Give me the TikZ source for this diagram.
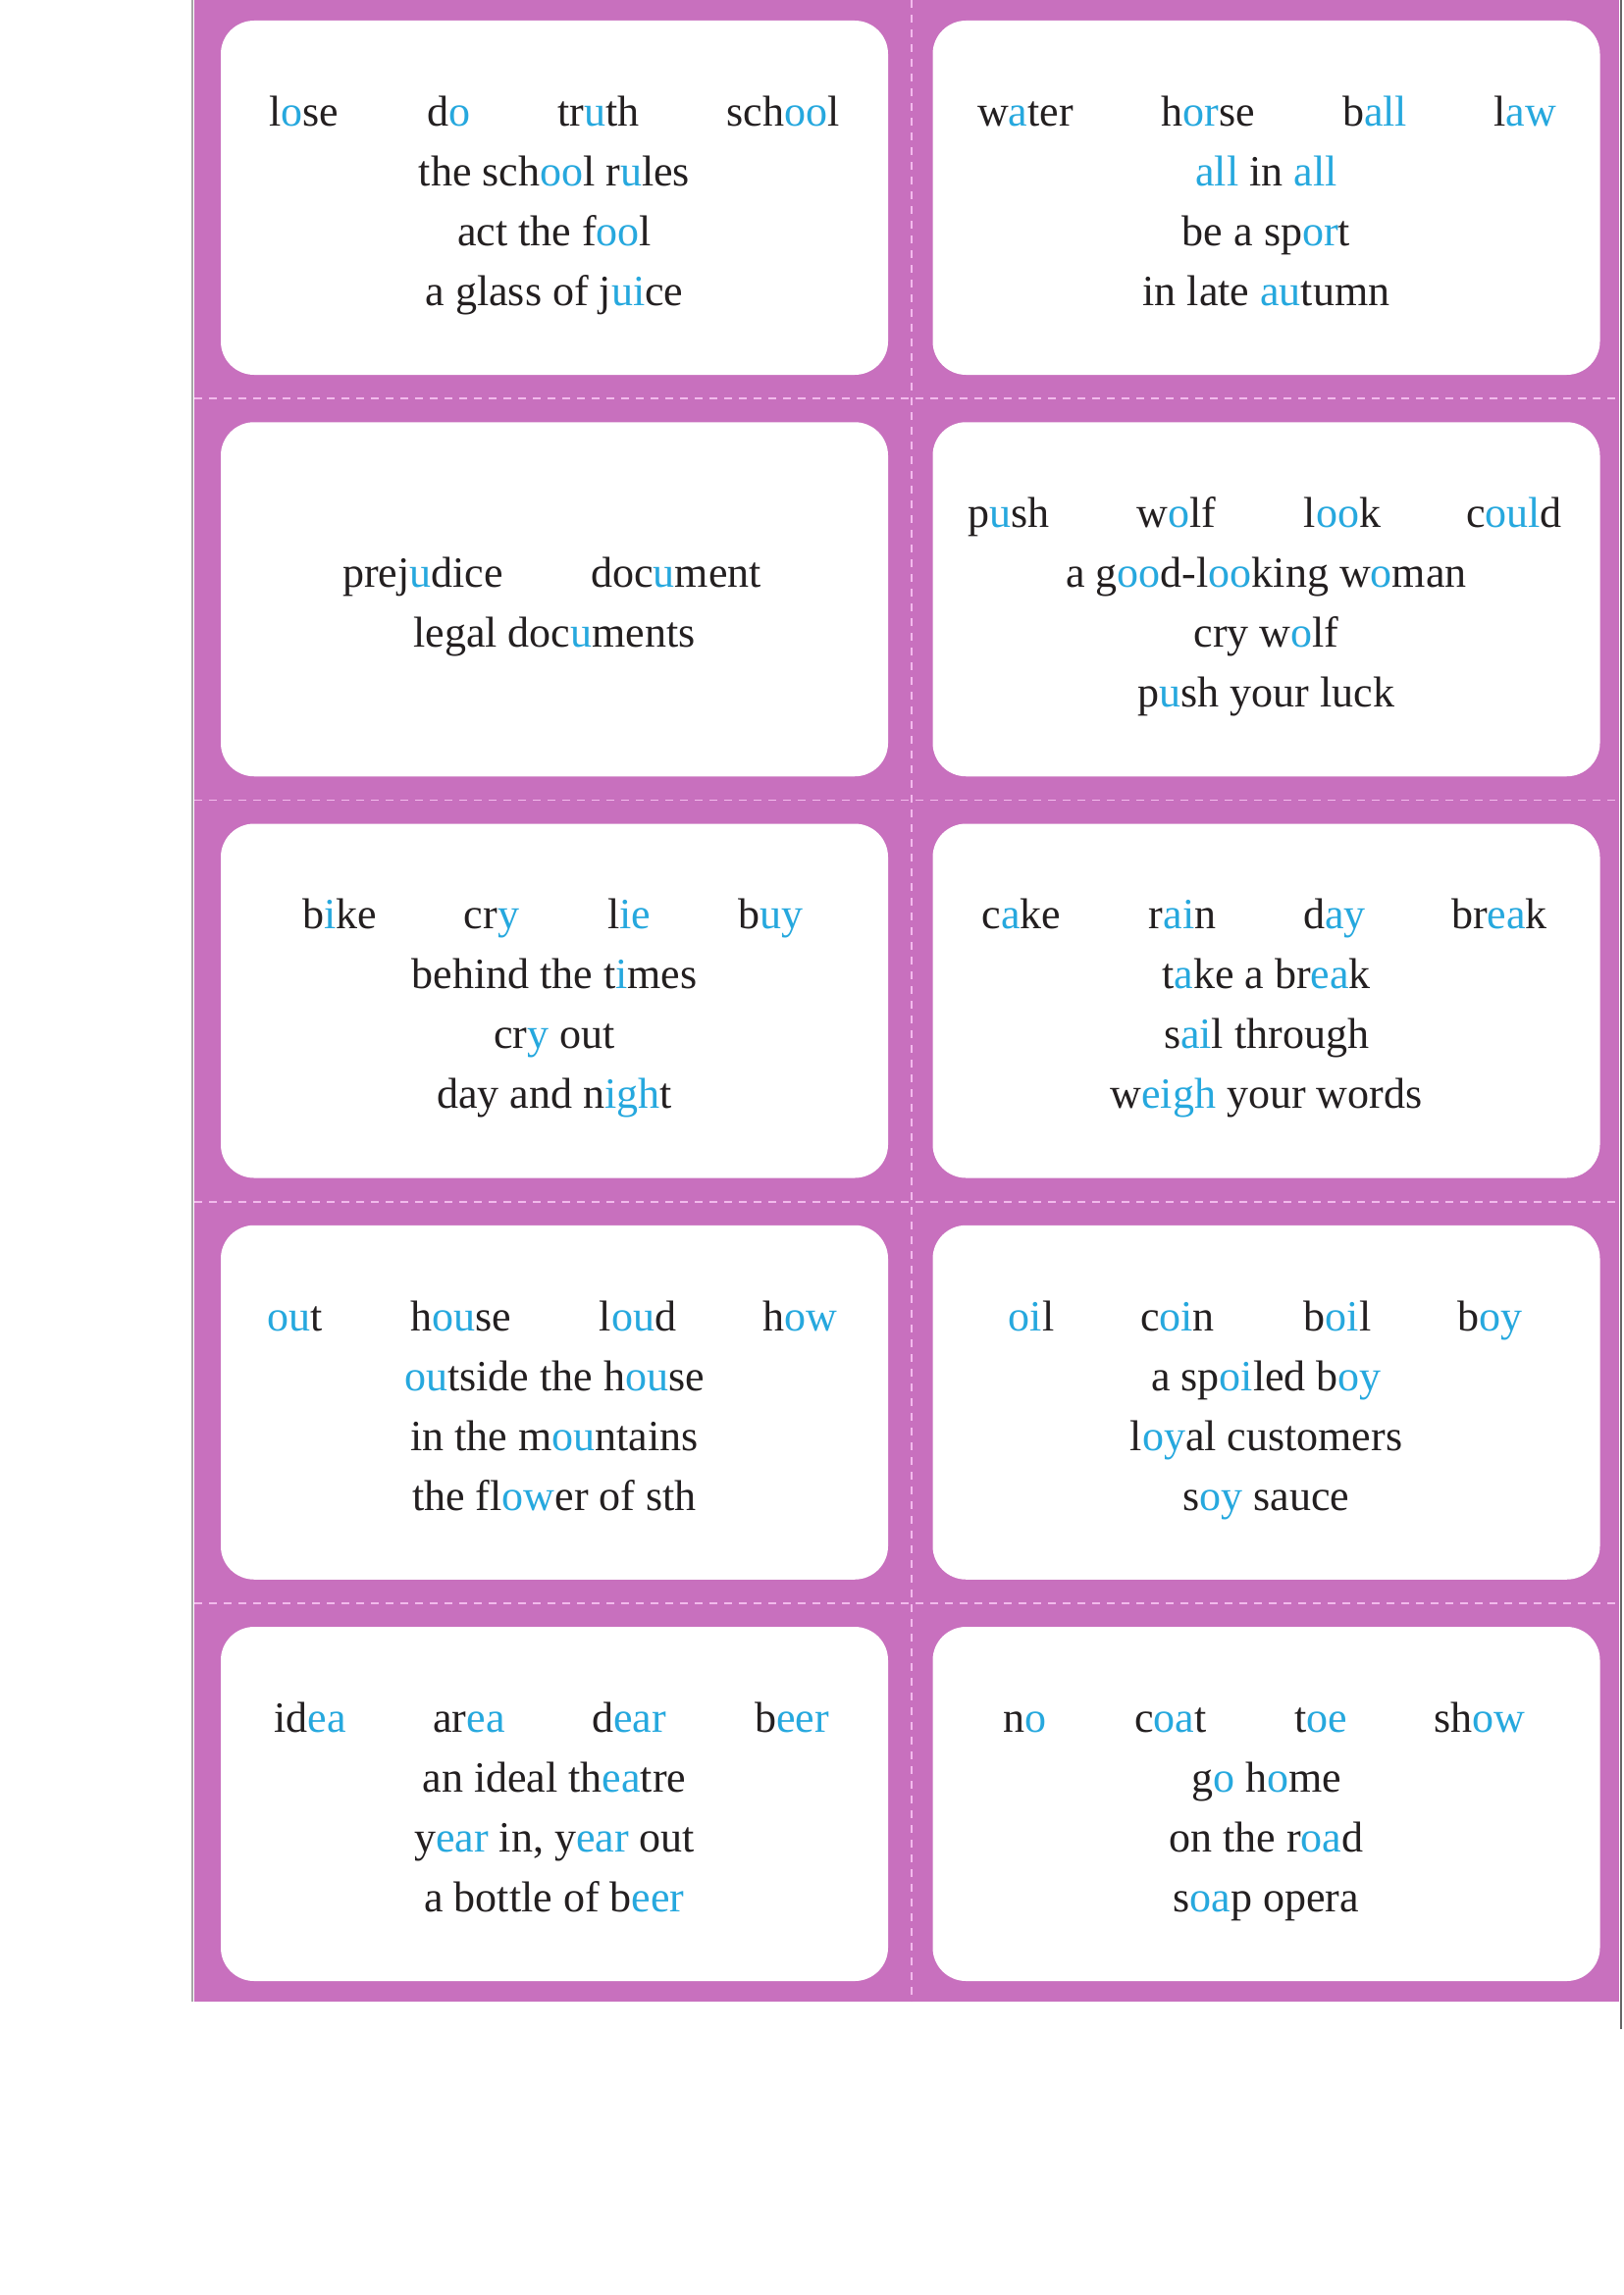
\documentclass[tikz,border=0pt]{standalone}
\usepackage{fontspec}
\setmainfont{Liberation Serif}
\usepackage{xcolor}
\definecolor{panelpink}{RGB}{200,112,190}
\definecolor{dashpink}{RGB}{242,186,236}
\definecolor{vblue}{RGB}{38,168,222}
\definecolor{ink}{RGB}{35,31,32}
\newcommand{\vw}[1]{\textcolor{vblue}{#1}}
\begin{document}
\begin{tikzpicture}[x=0.5pt,y=-0.5pt,
  card/.style={fill=white,draw=none,rounded corners=17pt,minimum width=340pt,minimum height=180.5pt,inner sep=0pt},
  txt/.style={anchor=base,inner sep=0pt,yshift=-1.5pt,text=ink,font=\fontsize{22pt}{26pt}\selectfont},
  cutline/.style={draw=dashpink,line width=0.8pt,dash pattern=on 4pt off 3.5pt}]
\useasboundingbox (0,0) rectangle (1654,2339);
\fill[white] (0,0) rectangle (1654,2339);
% panel
\fill[panelpink] (198,0) rectangle (1650,2040);
\draw[gray!70,line width=1pt] (196,0) -- (196,2040);
\draw[black!60,line width=1pt] (1652,0) -- (1652,2068);
% cut lines
\coordinate (vt) at (929,0); \coordinate (vb) at (929,2040);
\draw[cutline] (vt) -- (vb);
\foreach \yy in {406,815.5,1224.75,1634}{
  \draw[cutline] (198,\yy) -- (1650,\yy);
}
% cards
\node[card] (c1) at (565,201.5) {};
\node[card] (c2) at (1290.5,201.5) {};
\node[card] (c3) at (565,610.75) {};
\node[card] (c4) at (1290.5,610.75) {};
\node[card] (c5) at (565,1020) {};
\node[card] (c6) at (1290.5,1020) {};
\node[card] (c7) at (565,1429.25) {};
\node[card] (c8) at (1290.5,1429.25) {};
\node[card] (c9) at (565,1838.5) {};
\node[card] (c10) at (1290.5,1838.5) {};
% card 1
\node[txt] (a1) at (310,125) {l\vw{o}se};
\node[txt] (a2) at (457,125) {d\vw{o}};
\node[txt] (a3) at (610,125) {tr\vw{u}th};
\node[txt] (a4) at (798,125) {sch\vw{oo}l};
\node[txt] (a5) at (565,186) {the sch\vw{oo}l r\vw{u}les};
\node[txt] (a6) at (565,247) {act the f\vw{oo}l};
\node[txt] (a7) at (565,308) {a glass of j\vw{ui}ce};
% card 2
\node[txt] (b1) at (1045,125) {w\vw{a}ter};
\node[txt] (b2) at (1231,125) {h\vw{or}se};
\node[txt] (b3) at (1401,125) {b\vw{all}};
\node[txt] (b4) at (1554,125) {l\vw{aw}};
\node[txt] (b5) at (1290.5,186) {\vw{all} in \vw{all}};
\node[txt] (b6) at (1290.5,247) {be a sp\vw{or}t};
\node[txt] (b7) at (1290.5,308) {in late \vw{au}tumn};
% card 3
\node[txt] (d1) at (431,595) {prej\vw{u}dice};
\node[txt] (d2) at (689,595) {doc\vw{u}ment};
\node[txt] (d3) at (565,656) {legal doc\vw{u}ments};
% card 4
\node[txt] (e1) at (1028,534) {p\vw{u}sh};
\node[txt] (e2) at (1199,534) {w\vw{o}lf};
\node[txt] (e3) at (1368,534) {l\vw{oo}k};
\node[txt] (e4) at (1543,534) {c\vw{oul}d};
\node[txt] (e5) at (1290.5,595) {a g\vw{oo}d-l\vw{oo}king w\vw{o}man};
\node[txt] (e6) at (1290.5,656) {cry w\vw{o}lf};
\node[txt] (e7) at (1290.5,717) {p\vw{u}sh your luck};
% card 5
\node[txt] (f1) at (346,943.5) {b\vw{i}ke};
\node[txt] (f2) at (501,943.5) {cr\vw{y}};
\node[txt] (f3) at (641,943.5) {l\vw{ie}};
\node[txt] (f4) at (785,943.5) {b\vw{uy}};
\node[txt] (f5) at (565,1004.5) {behind the t\vw{i}mes};
\node[txt] (f6) at (565,1065.5) {cr\vw{y} out};
\node[txt] (f7) at (565,1126.5) {day and n\vw{igh}t};
% card 6
\node[txt] (g1) at (1041,943.5) {c\vw{a}ke};
\node[txt] (g2) at (1205,943.5) {r\vw{ai}n};
\node[txt] (g3) at (1360,943.5) {d\vw{ay}};
\node[txt] (g4) at (1528,943.5) {br\vw{ea}k};
\node[txt] (g5) at (1290.5,1004.5) {t\vw{a}ke a br\vw{ea}k};
\node[txt] (g6) at (1290.5,1065.5) {s\vw{ai}l through};
\node[txt] (g7) at (1290.5,1126.5) {w\vw{eigh} your words};
% card 7
\node[txt] (h1) at (301,1353) {\vw{ou}t};
\node[txt] (h2) at (470,1353) {h\vw{ou}se};
\node[txt] (h3) at (650,1353) {l\vw{ou}d};
\node[txt] (h4) at (815,1353) {h\vw{ow}};
\node[txt] (h5) at (565,1414) {\vw{ou}tside the h\vw{ou}se};
\node[txt] (h6) at (565,1475) {in the m\vw{ou}ntains};
\node[txt] (h7) at (565,1536) {the fl\vw{ow}er of sth};
% card 8
\node[txt] (k1) at (1051,1353) {\vw{oi}l};
\node[txt] (k2) at (1200,1353) {c\vw{oi}n};
\node[txt] (k3) at (1363,1353) {b\vw{oi}l};
\node[txt] (k4) at (1518,1353) {b\vw{oy}};
\node[txt] (k5) at (1290.5,1414) {a sp\vw{oi}led b\vw{oy}};
\node[txt] (k6) at (1290.5,1475) {l\vw{oy}al customers};
\node[txt] (k7) at (1290.5,1536) {s\vw{oy} sauce};
% card 9
\node[txt] (m1) at (316,1762) {id\vw{ea}};
\node[txt] (m2) at (478,1762) {ar\vw{ea}};
\node[txt] (m3) at (641,1762) {d\vw{ear}};
\node[txt] (m4) at (807,1762) {b\vw{eer}};
\node[txt] (m5) at (565,1823) {an ideal th\vw{ea}tre};
\node[txt] (m6) at (565,1884) {y\vw{ear} in, y\vw{ear} out};
\node[txt] (m7) at (565,1945) {a bottle of b\vw{eer}};
% card 10
\node[txt] (n1) at (1044,1762) {n\vw{o}};
\node[txt] (n2) at (1193,1762) {c\vw{oa}t};
\node[txt] (n3) at (1346,1762) {t\vw{oe}};
\node[txt] (n4) at (1508,1762) {sh\vw{ow}};
\node[txt] (n5) at (1290.5,1823) {g\vw{o} h\vw{o}me};
\node[txt] (n6) at (1290.5,1884) {on the r\vw{oa}d};
\node[txt] (n7) at (1290.5,1945) {s\vw{oa}p opera};
\end{tikzpicture}
\end{document}
